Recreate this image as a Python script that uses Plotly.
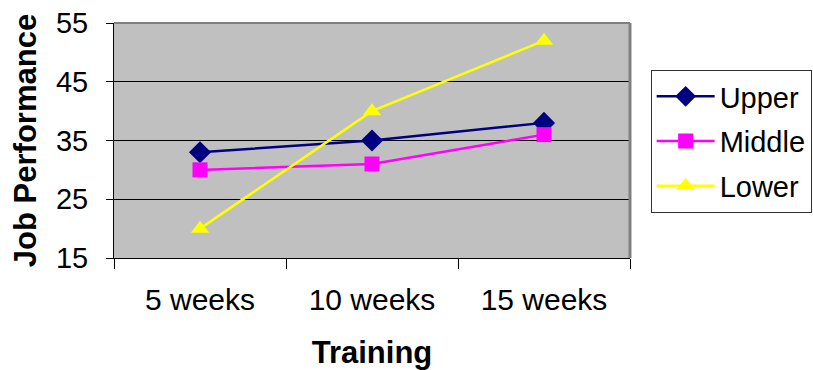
import plotly.graph_objects as go

# Training length categories and job performance scores by ability group
training = ["5 weeks", "10 weeks", "15 weeks"]
upper = [33, 35, 38]
middle = [30, 31, 36]
lower = [20, 40, 52]
y_ticks = [15, 25, 35, 45, 55]

FONT = "Liberation Sans, Arial, sans-serif"

fig = go.Figure()
series = [
    ("Upper", upper, "#000080", "diamond", 17),
    ("Middle", middle, "#FF00FF", "square", 15),
    ("Lower", lower, "#FFFF00", "triangle-up", 16),
]
for name, vals, color, symbol, size in series:
    fig.add_trace(go.Scatter(
        x=training, y=vals, name=name, mode="lines+markers",
        legendgroup=name,
        line=dict(color=color, width=2.5),
        marker=dict(symbol=symbol, size=size, color=color, line=dict(width=0)),
    ))

fig.update_layout(
    width=813, height=370,
    margin=dict(l=114, r=183, t=23, b=112, autoexpand=False),
    paper_bgcolor="white",
    plot_bgcolor="#C0C0C0",
    font=dict(family=FONT, size=29, color="black"),
    showlegend=True,
    legend=dict(
        x=1.04, xanchor="left", y=0.80, yanchor="top",
        bordercolor="#303030", borderwidth=1, bgcolor="white",
        font=dict(family=FONT, size=29, color="black"),
        traceorder="grouped", tracegroupgap=4,
        itemwidth=58,
    ),
    xaxis=dict(
        type="category", tickson="boundaries", range=[-0.5, 2.5],
        showgrid=False, showline=True, linecolor="black", linewidth=1,
        ticks="outside", ticklen=10, tickcolor="black", tickwidth=1,
        ticklabelstandoff=15,
        tickfont=dict(family=FONT, size=30),
        title=dict(text="<b>Training</b>", font=dict(family=FONT, size=31), standoff=32),
        fixedrange=True,
    ),
    yaxis=dict(
        range=[15, 55], tickvals=y_ticks,
        showgrid=True, gridcolor="black", gridwidth=1,
        showline=True, linecolor="black", linewidth=1,
        ticks="outside", ticklen=7, tickcolor="black", tickwidth=1,
        ticklabelstandoff=12,
        tickfont=dict(family=FONT, size=29),
        zeroline=False,
        title=dict(text="<b>Job Performance</b>", font=dict(family=FONT, size=31), standoff=10),
    ),
)

# Grey frame on the top and right edges of the plot area
fig.add_shape(type="line", xref="paper", yref="paper", x0=0, x1=1, y0=1, y1=1,
              line=dict(color="#808080", width=2), layer="above")
fig.add_shape(type="line", xref="paper", yref="paper", x0=1, x1=1, y0=0, y1=1,
              line=dict(color="#808080", width=3), layer="above")

fig.write_html("out.html")
